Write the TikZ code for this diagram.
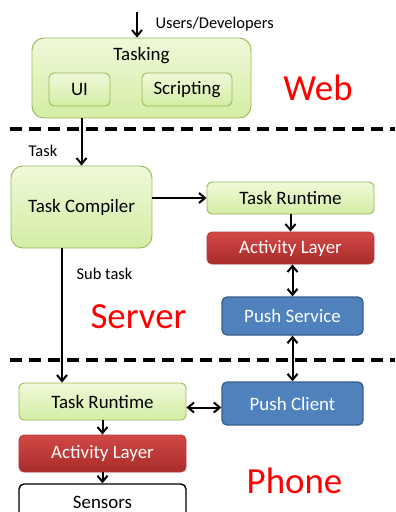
\documentclass[tikz,border=0pt]{standalone}
\usepackage{fontspec}
\setmainfont{Carlito}
\usetikzlibrary{arrows.meta,positioning}

\definecolor{greentop}{RGB}{240,249,218}
\definecolor{greenbottom}{RGB}{212,237,164}
\definecolor{greenborder}{RGB}{152,185,84}
\definecolor{redtop}{RGB}{210,72,70}
\definecolor{redbottom}{RGB}{168,44,42}
\definecolor{redborder}{RGB}{185,60,58}
\definecolor{bluefill}{RGB}{79,129,189}
\definecolor{blueborder}{RGB}{56,93,138}

\begin{document}
\begin{tikzpicture}[x=1bp, y=-1bp,
	box/.style={rectangle, rounded corners=5bp, draw, align=center, inner sep=0pt, font=\fontsize{19}{21}\selectfont},
	green box/.style={box, draw=greenborder, top color=greentop, bottom color=greenbottom, line width=0.9bp},
	red box/.style={box, draw=redborder, top color=redtop, bottom color=redbottom, text=white, line width=0.9bp},
	blue box/.style={box, draw=blueborder, fill=bluefill, text=white, line width=1.3bp},
	plain box/.style={box, draw=black, fill=white, line width=1.4bp},
	arrow/.style={-{Straight Barb[length=6bp,width=10bp]}, line width=2bp},
	both/.style={{Straight Barb[length=6bp,width=10bp]}-{Straight Barb[length=6bp,width=10bp]}, line width=2bp},
	tier/.style={text=red, font=\fontsize{37}{40}\selectfont},
	note/.style={font=\fontsize{16.5}{18}\selectfont},
	divider/.style={dash pattern=on 12bp off 7bp, line width=3.2bp}]
	\useasboundingbox (0,0) rectangle (395,512);

	% Web
	\node[green box, rounded corners=12bp, minimum width=219bp, minimum height=80bp] (tasking) at (141.5,78) {};
	\node[font=\fontsize{19}{21}\selectfont] (taskinglabel) at (141.5,56) {Tasking};
	\node[green box, minimum width=61bp, minimum height=33bp] (ui) at (79.5,89.5) {UI};
	\node[green box, minimum width=90bp, minimum height=33bp] (scripting) at (187,89.5) {Scripting};

	% Server
	\node[green box, rounded corners=12bp, minimum width=141bp, minimum height=82bp] (compiler) at (81.5,207) {Task Compiler};
	\node[green box, minimum width=167bp, minimum height=32bp] (srvruntime) at (290.5,198) {Task Runtime};
	\node[red box, minimum width=167bp, minimum height=32bp] (srvactivity) at (290.5,248) {Activity Layer};
	\node[blue box, minimum width=141bp, minimum height=38bp] (pushservice) at (292.5,316) {Push Service};

	% Phone
	\node[green box, minimum width=167bp, minimum height=37bp] (phoneruntime) at (102.5,401.5) {Task Runtime};
	\node[blue box, minimum width=141bp, minimum height=43bp] (pushclient) at (292.5,403.5) {Push Client};
	\node[red box, minimum width=167bp, minimum height=37bp] (phoneactivity) at (102.5,453.5) {Activity Layer};
	\node[plain box, minimum width=167bp, minimum height=37bp] (sensors) at (102.5,502.5) {Sensors};

	% Dividers
	\coordinate (webleft) at (10,129);
	\coordinate (webright) at (395,129);
	\coordinate (phoneleft) at (10,360);
	\coordinate (phoneright) at (395,360);
	\draw[divider] (webleft) -- (webright);
	\draw[divider] (phoneleft) -- (phoneright);

	% Connectors
	\coordinate (users) at (137,12);
	\draw[arrow] (users) -- (users |- tasking.north);
	\draw[arrow] (tasking.south -| compiler.north) -- (compiler.north);
	\draw[arrow] (compiler.east |- srvruntime.west) -- (srvruntime.west);
	\draw[arrow] (srvruntime.south) -- (srvactivity.north);
	\draw[both] (srvactivity.south -| pushservice.north) -- (pushservice.north);
	\draw[both] (pushservice.south) -- (pushclient.north);
	\draw[arrow] ([xshift=-19.5bp]compiler.south) -- ([xshift=-19.5bp]compiler.south |- phoneruntime.north);
	\draw[both] ([yshift=-4bp]pushclient.west -| phoneruntime.east) -- ([yshift=-4bp]pushclient.west);
	\draw[arrow] (phoneruntime.south) -- (phoneactivity.north);
	\draw[arrow] (phoneactivity.south) -- (sensors.north);

	% Labels
	\node[note, anchor=west] (userslabel) at (152,24) {Users/Developers};
	\node[note] (tasklabel) at (43,151) {Task};
	\node[note] (subtasklabel) at (104.5,274) {Sub task};

	% Tiers
	\node[tier] (web) at (318,88) {Web};
	\node[tier] (server) at (138.5,317) {Server};
	\node[tier] (phone) at (294.5,481) {Phone};
\end{tikzpicture}
\end{document}
